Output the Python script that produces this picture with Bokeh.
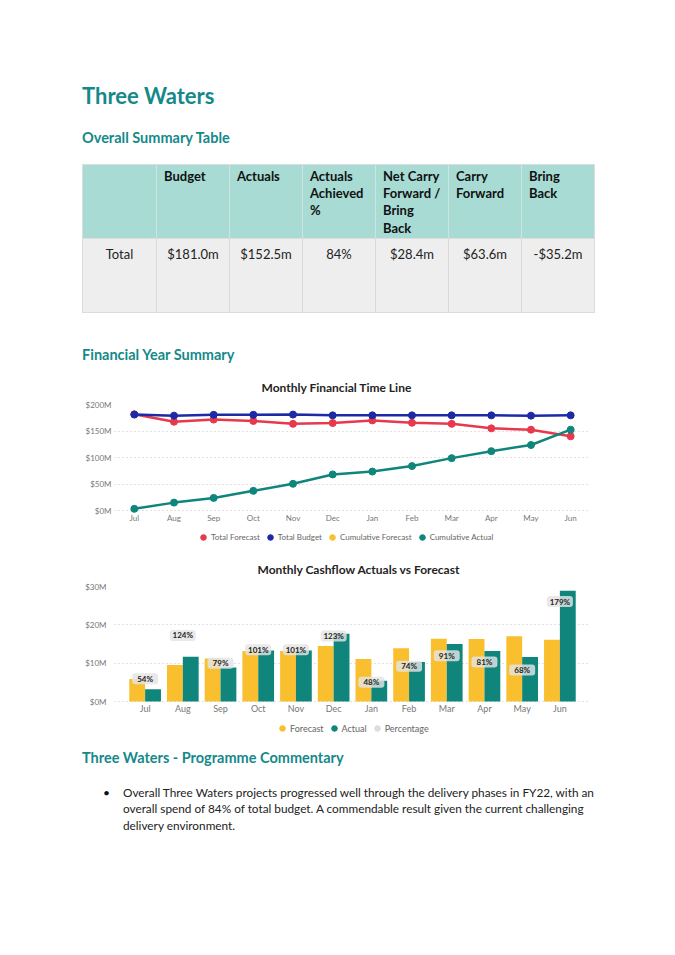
from bokeh.plotting import figure
from bokeh.models import (Div, Range1d, FactorRange, FixedTicker, PrintfTickFormatter,
                          Legend, LegendItem, ColumnDataSource)
from bokeh.layouts import column
from bokeh.transform import dodge
from bokeh.core.properties import value
from bokeh.embed import file_html
from bokeh.resources import INLINE

# ---------------- data ----------------
months = ["Jul", "Aug", "Sep", "Oct", "Nov", "Dec", "Jan", "Feb", "Mar", "Apr", "May", "Jun"]

# Monthly Financial Time Line ($M)
total_forecast = [181.5, 167.5, 171.5, 169.0, 163.5, 165.0, 170.0, 165.5, 163.5, 155.0, 152.5, 140.0]
total_budget = [181.0, 179.0, 180.5, 180.5, 181.0, 179.5, 179.5, 179.5, 179.5, 179.5, 179.0, 179.5]
cumulative_actual = [3.2, 14.9, 23.8, 37.1, 50.4, 68.1, 73.5, 83.8, 98.8, 112.0, 123.6, 152.5]
cumulative_forecast_shown = [float("nan")]   # series listed in the legend, not drawn
line_ticks = [0, 50, 100, 150, 200]

# Monthly Cashflow Actuals vs Forecast ($M)
monthly_forecast = [5.9, 9.5, 11.2, 13.2, 13.2, 14.5, 11.1, 13.9, 16.4, 16.3, 17.0, 16.1]
monthly_actual = [3.2, 11.7, 8.9, 13.3, 13.3, 17.7, 5.4, 10.3, 15.0, 13.2, 11.6, 28.9]
percentage = [54, 124, 79, 101, 101, 123, 48, 74, 91, 81, 68, 179]
bar_ticks = [0, 10, 20, 30]

# Summary table
table_header = [[""], ["Budget"], ["Actuals"], ["Actuals", "Achieved", "%"],
                ["Net Carry", "Forward /", "Bring", "Back"], ["Carry", "Forward"], ["Bring", "Back"]]
table_row = ["Total", "$181.0m", "$152.5m", "84%", "$28.4m", "$63.6m", "-$35.2m"]

page_title = "Three Waters"
heading_table = "Overall Summary Table"
heading_fy = "Financial Year Summary"
heading_comment = "Three Waters - Programme Commentary"
comment_lines = ["Overall Three Waters projects progressed well through the delivery phases in FY22, with an",
                 "overall spend of 84% of total budget. A commendable result given the current challenging",
                 "delivery environment."]

# ---------------- styles ----------------
TEAL_H = "#15898a"
FONT = "Lato"
RED = "#e8384c"
BLUE = "#1d2aa6"
TEAL = "#0f857b"
YELLOW = "#f9bf2f"
GREY_LBL = "#777777"
W = 659
TOP_H, P1_H, P2_H = 367, 182, 191
BOT_H = 955 - TOP_H - P1_H - P2_H


def txt(x, yc, lh, size, weight, color, text):
    top = yc - lh / 2
    return (f'<div style="position:absolute;left:{x}px;top:{top}px;line-height:{lh}px;'
            f'font-size:{size}px;font-weight:{weight};color:{color};white-space:nowrap;">{text}</div>')


# ---------------- top block (title + table) ----------------
parts = []
parts.append(txt(82, 96, 26, 22, 700, TEAL_H, page_title))
parts.append(txt(82, 138, 18, 14.5, 700, TEAL_H, heading_table))

tx, ty, cw, hh, bh = 83, 164.7, 73, 73, 74
ncol = len(table_header)
cells = []
for i, lines in enumerate(table_header):
    bl = "border-left:1px solid #cfe3df;" if i > 0 else ""
    cells.append(f'<div style="position:absolute;left:{i*cw}px;top:0px;width:{cw}px;height:{hh}px;'
                 f'box-sizing:border-box;background:#a7dbd3;{bl}padding:3px 0 0 7px;'
                 f'font-size:13px;font-weight:700;line-height:17.3px;color:#111;white-space:nowrap;">'
                 + "<br>".join(lines) + '</div>')
for i, v in enumerate(table_row):
    bl = "border-left:1px solid #d9d9d9;" if i > 0 else ""
    cells.append(f'<div style="position:absolute;left:{i*cw}px;top:{hh}px;width:{cw}px;height:{bh}px;'
                 f'box-sizing:border-box;background:#eeeeee;{bl}border-top:1px solid #dddddd;padding-top:7px;'
                 f'text-align:center;font-size:13px;line-height:17px;color:#222;white-space:nowrap;">{v}</div>')
parts.append(f'<div style="position:absolute;left:{tx}px;top:{ty}px;width:{ncol*cw}px;height:{hh+bh}px;'
             f'outline:1px solid #dcdcdc;">' + "".join(cells) + '</div>')
parts.append(txt(82, 355, 18, 14.5, 700, TEAL_H, heading_fy))

top_div = Div(text=f'<div style="position:relative;width:{W}px;height:{TOP_H}px;font-family:{FONT};">'
              + "".join(parts) + '</div>', width=W, height=TOP_H, margin=0)


def style_axes(p, ysize, standoff):
    ax = p.yaxis
    ax.axis_line_color = None
    ax.major_tick_line_color = None
    ax.minor_tick_line_color = None
    ax.major_tick_out = 0
    ax.major_tick_in = 0
    ax.minor_tick_out = 0
    ax.major_label_text_font = FONT
    ax.major_label_text_color = GREY_LBL
    ax.major_label_text_font_size = ysize
    ax.major_label_standoff = standoff
    p.xgrid.visible = False
    p.ygrid.grid_line_dash = "1 3"
    p.ygrid.grid_line_color = "#c4c4c4"
    p.outline_line_color = None


def style_title(p, text, offset, standoff):
    p.title.text = text
    p.title.text_font = FONT
    p.title.text_font_size = "12px"
    p.title.text_font_style = "bold"
    p.title.text_color = "#252423"
    p.title.align = "left"
    p.title.offset = offset
    p.title.standoff = standoff


def make_legend(items, loc, size):
    return Legend(items=items, orientation="horizontal", location=loc,
                  label_text_font=FONT, label_text_font_size=size, label_text_color="#666666",
                  glyph_width=14, glyph_height=14, label_height=14, label_standoff=1, spacing=3,
                  padding=0, margin=0, border_line_color=None, background_fill_alpha=0)


# ---------------- line chart ----------------
# frame extends below $0M so the category labels and legend sit inside it
src1 = ColumnDataSource(dict(month=months, fc=total_forecast, bd=total_budget, ca=cumulative_actual))
p1 = figure(width=W, height=P1_H, x_range=FactorRange(factors=months, range_padding=0),
            y_range=Range1d(-67.9, 200), output_backend="svg", toolbar_location=None,
            x_axis_location=None,
            min_border_left=114, min_border_right=69, min_border_top=37, min_border_bottom=3)
style_title(p1, "Monthly Financial Time Line", 147, 20)
style_axes(p1, "8px", 3)
p1.yaxis.ticker = FixedTicker(ticks=line_ticks)
p1.yaxis.formatter = PrintfTickFormatter(format="$%dM")

p1.text(x="month", y=0, text="month", source=src1, y_offset=7, text_align="center",
        text_baseline="middle", text_font=value(FONT), text_font_size="8px", text_color=GREY_LBL)
p1.line("month", "fc", source=src1, color=RED, line_width=2.5)
s_fc = p1.scatter("month", "fc", source=src1, color=RED, size=7)
p1.line("month", "bd", source=src1, color=BLUE, line_width=2.5)
s_bd = p1.scatter("month", "bd", source=src1, color=BLUE, size=7)
s_cf = p1.scatter(x=months[:1], y=cumulative_forecast_shown, color=YELLOW, size=7)
p1.line("month", "ca", source=src1, color=TEAL, line_width=2.5)
s_ca = p1.scatter("month", "ca", source=src1, color=TEAL, size=7)

lg1 = make_legend([LegendItem(label="Total Forecast", renderers=[s_fc]),
                   LegendItem(label="Total Budget", renderers=[s_bd]),
                   LegendItem(label="Cumulative Forecast", renderers=[s_cf]),
                   LegendItem(label="Cumulative Actual", renderers=[s_ca])], (82, 2), "8px")
p1.add_layout(lg1, "center")

# ---------------- bar chart ----------------
src2 = ColumnDataSource(dict(month=months, fc=monthly_forecast, ac=monthly_actual, pct=percentage,
                             lbl=[f"{v}%" for v in percentage]))
Y2_LO = -9.65
PCT_PER_M = (203.3 - 17.0) / 30.0
p2 = figure(width=W, height=P2_H, x_range=FactorRange(factors=months, range_padding=0.052),
            y_range=Range1d(Y2_LO, 30), output_backend="svg", toolbar_location=None,
            x_axis_location=None,
            min_border_left=113, min_border_right=63, min_border_top=37, min_border_bottom=2)
p2.extra_y_ranges = {"pct": Range1d(17.0 + Y2_LO * PCT_PER_M, 203.3)}
style_title(p2, "Monthly Cashflow Actuals vs Forecast", 143, 20)
style_axes(p2, "8px", 8)
p2.yaxis.ticker = FixedTicker(ticks=bar_ticks)
p2.yaxis.formatter = PrintfTickFormatter(format="$%dM")

p2.vbar(x=dodge("month", -0.21, range=p2.x_range), top="fc", width=0.42, source=src2,
        fill_color=YELLOW, line_color=None)
p2.vbar(x=dodge("month", 0.21, range=p2.x_range), top="ac", width=0.42, source=src2,
        fill_color=TEAL, line_color=None)
rect_kw = dict(x="month", y="pct", width=26, height=11, width_units="screen", height_units="screen",
               source=src2, y_range_name="pct", fill_color="#e4e4e4", fill_alpha=0.82, line_color=None)
try:
    p2.rect(border_radius=3, **rect_kw)
except Exception:
    p2.rect(**rect_kw)
p2.text(x="month", y="pct", text="lbl", source=src2, y_range_name="pct", text_align="center",
        text_baseline="middle", text_font=value(FONT), text_font_size="8px", text_font_style="bold",
        text_color="#252423")
p2.text(x="month", y=0, text="month", source=src2, y_offset=7, text_align="center",
        text_baseline="middle", text_font=value(FONT), text_font_size="9px", text_color=GREY_LBL)
# legend swatches (size 0 in the plot, drawn only in the legend)
s_f = p2.scatter(x="month", y="fc", source=src2, color=YELLOW, size=0)
s_a = p2.scatter(x="month", y="ac", source=src2, color=TEAL, size=0)
s_p = p2.scatter(x="month", y="pct", source=src2, y_range_name="pct", color="#dddddd", size=0)
lg2 = make_legend([LegendItem(label="Forecast", renderers=[s_f]),
                   LegendItem(label="Actual", renderers=[s_a]),
                   LegendItem(label="Percentage", renderers=[s_p])], (161, 3), "9px")
p2.add_layout(lg2, "center")

# ---------------- commentary ----------------
cparts = [txt(82, 18, 18, 14.5, 700, TEAL_H, heading_comment)]
cparts.append(txt(103, 53, 16.5, 12, 400, "#111", "&#8226;"))
for i, line in enumerate(comment_lines):
    cparts.append(txt(123, 53 + i * 16.5, 16.5, 11.8, 400, "#222", line))
bot_div = Div(text=f'<div style="position:relative;width:{W}px;height:{BOT_H}px;font-family:{FONT};">'
              + "".join(cparts) + '</div>', width=W, height=BOT_H, margin=0)

layout = column(top_div, p1, p2, bot_div, spacing=0)
open("out.html", "w").write(file_html(layout, INLINE))
